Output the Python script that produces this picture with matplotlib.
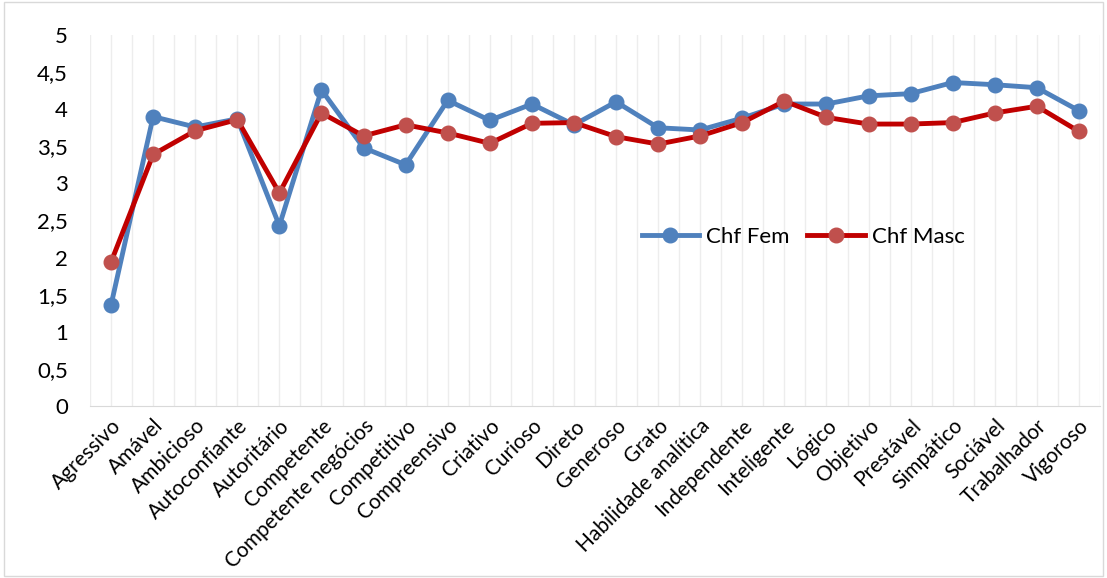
import numpy as np
import matplotlib.pyplot as plt
from matplotlib.patches import Rectangle

# --- données ---
atributos = ['Agressivo', 'Amável', 'Ambicioso', 'Autoconfiante', 'Autoritário',
             'Competente', 'Competente negócios', 'Competitivo', 'Compreensivo',
             'Criativo', 'Curioso', 'Direto', 'Generoso', 'Grato',
             'Habilidade analítica', 'Independente', 'Inteligente', 'Lógico',
             'Objetivo', 'Prestável', 'Simpático', 'Sociável', 'Trabalhador',
             'Vigoroso']
chf_fem = [1.36, 3.90, 3.76, 3.87, 2.43, 4.26, 3.48, 3.25, 4.12, 3.85, 4.07, 3.79,
           4.10, 3.75, 3.72, 3.88, 4.07, 4.07, 4.18, 4.21, 4.36, 4.33, 4.29, 3.98]
chf_masc = [1.94, 3.39, 3.71, 3.86, 2.87, 3.95, 3.64, 3.79, 3.68, 3.54, 3.81, 3.82,
            3.63, 3.53, 3.64, 3.82, 4.11, 3.89, 3.80, 3.80, 3.82, 3.95, 4.04, 3.70]
y_ticks = [0, 0.5, 1, 1.5, 2, 2.5, 3, 3.5, 4, 4.5, 5]

plt.rcParams['font.family'] = ['Lato', 'DejaVu Sans']

fig = plt.figure(figsize=(11.07, 5.78), dpi=100)
fig.patches.append(Rectangle((0.004, 0.004), 0.992, 0.992, transform=fig.transFigure,
                             fill=False, edgecolor='#D9D9D9', linewidth=1))
ax = fig.add_axes([0.0813, 0.2976, 0.9124, 0.6418])

x = np.arange(len(atributos))

# grille verticale (tous les demi-intervalles)
for gx in np.arange(-0.5, len(atributos), 0.5):
    ax.axvline(gx, color='#EDEDED', linewidth=1, zorder=0)

ax.plot(x, chf_fem, color='#4F81BD', linewidth=3.5, marker='o', markersize=10.5,
        markerfacecolor='#4F81BD', markeredgecolor='#4F81BD', label='Chf Fem', zorder=3)
ax.plot(x, chf_masc, color='#C00000', linewidth=3.5, marker='o', markersize=10.5,
        markerfacecolor='#C0504D', markeredgecolor='#C0504D', label='Chf Masc', zorder=4)

ax.set_xlim(-0.5, len(atributos) - 0.5)
ax.set_ylim(0, 5)
ax.set_yticks(y_ticks)
ax.set_yticklabels([f'{v:g}'.replace('.', ',') for v in y_ticks], fontsize=16)
ax.set_xticks(x)
ax.set_xticklabels(atributos, rotation=45, ha='right', rotation_mode='anchor', fontsize=15)
ax.tick_params(axis='y', length=0, pad=16)
ax.tick_params(axis='x', length=0, pad=7)

for s in ['top', 'right', 'left']:
    ax.spines[s].set_visible(False)
ax.spines['bottom'].set_color('#D9D9D9')

ax.legend(loc='center', bbox_to_anchor=(0.706, 0.455), ncol=2, frameon=False,
          fontsize=16, handlelength=2.6, columnspacing=0.8, handletextpad=0.3)

plt.savefig('out.png', dpi=100)
